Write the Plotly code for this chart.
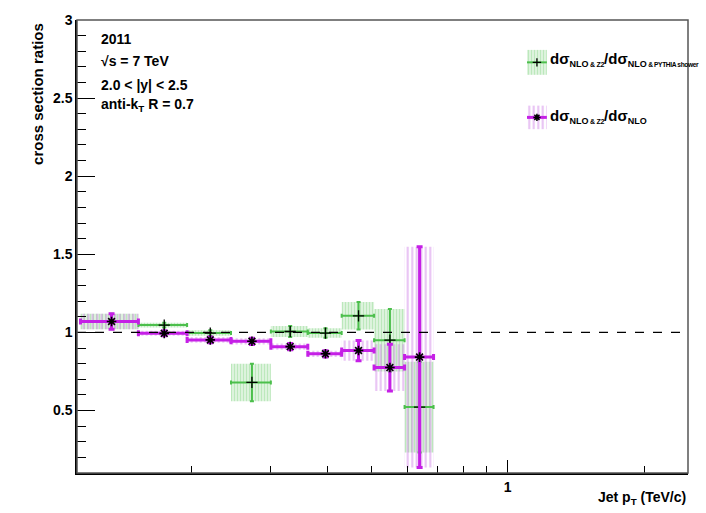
import plotly.graph_objects as go

# ---- data (jet pT bins in TeV) ----
bin_low = [0.114, 0.153, 0.196, 0.245, 0.300, 0.362, 0.430, 0.507, 0.592]
bin_high = [0.153, 0.196, 0.245, 0.300, 0.362, 0.430, 0.507, 0.592, 0.686]
ratio_pythia = [1.070, 1.047, 0.996, 0.680, 1.006, 0.996, 1.106, 0.950, 0.522]
err_pythia = [0.050, 0.015, 0.018, 0.120, 0.035, 0.030, 0.088, 0.200, 0.290]
ratio_nlo = [1.070, 0.994, 0.952, 0.943, 0.909, 0.863, 0.884, 0.775, 0.842]
err_nlo = [0.050, 0.016, 0.018, 0.020, 0.020, 0.020, 0.065, 0.150, 0.707]

y_tick_vals = [0.5, 1, 1.5, 2, 2.5, 3]
y_tick_text = ["0.5", "1", "1.5", "2", "2.5", "3"]
x_tick_vals = [1]
x_tick_text = ["1"]
x_minor_vals = [0.2, 0.3, 0.4, 0.5, 0.6, 0.7, 0.8, 0.9, 2]

info_lines = ["2011", "√s = 7 TeV", "2.0 < |y| < 2.5", "anti-k<sub>T</sub> R = 0.7"]
S_NLO = "<span style='font-size:9px'>NLO</span>"
S_Z2 = "<span style='font-size:7px;letter-spacing:-0.3px'> &amp; Z2</span>"
S_PY = "<span style='font-size:6.6px;letter-spacing:-0.35px'> &amp; PYTHIA shower</span>"
label_pythia = "dσ<sub>" + S_NLO + S_Z2 + "</sub>/dσ<sub>" + S_NLO + S_PY + "</sub>"
label_nlo = "dσ<sub>" + S_NLO + S_Z2 + "</sub>/dσ<sub>" + S_NLO + "</sub>"

GREEN = "#4cbf4c"
PURPLE = "#c51fe6"
GREEN_HATCH = "rgba(120,210,120,0.75)"
GREEN_BG = "rgba(200,235,200,0.45)"
PURPLE_HATCH = "#cf80e8"
FONT = "Liberation Sans, Arial, Helvetica, sans-serif"

centers = [(l + h) / 2 for l, h in zip(bin_low, bin_high)]


def band_polys(lo, hi, val, err):
    xs, ys = [], []
    for l, h, v, e in zip(lo, hi, val, err):
        xs += [l, h, h, l, l, None]
        ys += [v - e, v - e, v + e, v + e, v - e, None]
    return xs, ys


fig = go.Figure()

gx, gy = band_polys(bin_low, bin_high, ratio_pythia, err_pythia)
fig.add_trace(go.Scatter(
    x=gx, y=gy, mode="lines", line=dict(width=0), fill="toself",
    fillcolor="rgba(0,0,0,0)",
    fillpattern=dict(shape="|", fgcolor=GREEN_HATCH, bgcolor=GREEN_BG, size=3, solidity=0.5),
    hoverinfo="skip", showlegend=False))

px_, py_ = band_polys(bin_low, bin_high, ratio_nlo, err_nlo)
fig.add_trace(go.Scatter(
    x=px_, y=py_, mode="lines", line=dict(width=0), fill="toself",
    fillcolor="rgba(0,0,0,0)",
    fillpattern=dict(shape="|", fgcolor=PURPLE_HATCH, bgcolor="rgba(0,0,0,0)", size=4.5, solidity=0.45),
    hoverinfo="skip", showlegend=False))

fig.add_trace(go.Scatter(
    x=centers, y=ratio_pythia, mode="markers",
    marker=dict(symbol="cross-thin-open", size=8, color="black", line=dict(width=1.3, color="black")),
    error_x=dict(type="data", symmetric=False,
                 array=[h - c for h, c in zip(bin_high, centers)],
                 arrayminus=[c - l for l, c in zip(bin_low, centers)],
                 color=GREEN, thickness=2, width=2),
    error_y=dict(type="data", array=err_pythia, color=GREEN, thickness=2, width=2),
    showlegend=False))

fig.add_trace(go.Scatter(
    x=centers, y=ratio_nlo, mode="markers",
    marker=dict(symbol="asterisk-open", size=8, color="black", line=dict(width=1.6, color="black")),
    error_x=dict(type="data", symmetric=False,
                 array=[h - c for h, c in zip(bin_high, centers)],
                 arrayminus=[c - l for l, c in zip(bin_low, centers)],
                 color=PURPLE, thickness=3, width=3),
    error_y=dict(type="data", array=err_nlo, color=PURPLE, thickness=3, width=3),
    showlegend=False))

# ---- legend symbols on an overlay paper-like axis ----
leg_x0, leg_x1 = 0.7365, 0.769
leg_rows = [(0.879, 0.934, GREEN_HATCH, GREEN_BG, 3, 0.5, GREEN, "cross-thin-open", 1.3, 2),
            (0.759, 0.811, PURPLE_HATCH, "rgba(0,0,0,0)", 4.5, 0.45, PURPLE, "asterisk-open", 1.5, 3)]
for (y0, y1, hatch, bg, sz, sol, col, sym, lw, lwid) in leg_rows:
    fig.add_trace(go.Scatter(
        x=[leg_x0, leg_x1, leg_x1, leg_x0, leg_x0], y=[y0, y0, y1, y1, y0],
        xaxis="x2", yaxis="y2", mode="lines", line=dict(width=0), fill="toself",
        fillcolor="rgba(0,0,0,0)",
        fillpattern=dict(shape="|", fgcolor=hatch, bgcolor=bg, size=sz, solidity=sol),
        hoverinfo="skip", showlegend=False))
    ym = (y0 + y1) / 2
    fig.add_trace(go.Scatter(
        x=[leg_x0, leg_x1], y=[ym, ym], xaxis="x2", yaxis="y2", mode="lines",
        line=dict(color=col, width=lwid), hoverinfo="skip", showlegend=False))
    fig.add_trace(go.Scatter(
        x=[(leg_x0 + leg_x1) / 2], y=[ym], xaxis="x2", yaxis="y2", mode="markers",
        marker=dict(symbol=sym, size=6, color="black", line=dict(width=lw, color="black")),
        hoverinfo="skip", showlegend=False))

fig.add_annotation(x=0.772, y=0.912, xref="paper", yref="paper", xanchor="left", yanchor="middle",
                   text=label_pythia, showarrow=False, borderpad=0,
                   font=dict(family=FONT, size=15, color="black", weight="bold"))
fig.add_annotation(x=0.772, y=0.788, xref="paper", yref="paper", xanchor="left", yanchor="middle",
                   text=label_nlo, showarrow=False, borderpad=0,
                   font=dict(family=FONT, size=15, color="black", weight="bold"))

# ---- info text ----
info_y = [0.958, 0.910, 0.857, 0.812]
for t, yy in zip(info_lines, info_y):
    fig.add_annotation(x=0.036, y=yy, xref="paper", yref="paper", xanchor="left", yanchor="middle",
                       text=t, showarrow=False,
                       font=dict(family=FONT, size=14, color="black", weight="bold"))

# axis titles
fig.add_annotation(x=-0.0638, y=0.998, xref="paper", yref="paper", xanchor="center", yanchor="top",
                   text="cross section ratios", textangle=-90, showarrow=False,
                   font=dict(family=FONT, size=15, color="black", weight="bold"))
fig.add_annotation(x=1.0, y=-0.055, xref="paper", yref="paper", xanchor="right", yanchor="middle",
                   text="Jet p<sub>T</sub> (TeV/c)", showarrow=False,
                   font=dict(family=FONT, size=14, color="black", weight="bold"))

# dashed line at 1
fig.add_shape(type="line", xref="paper", yref="y", x0=0, x1=1, y0=1, y1=1,
              line=dict(color="black", width=1.2, dash="dash"), layer="above")
# frame
fig.add_shape(type="rect", xref="paper", yref="paper", x0=0, x1=1, y0=0, y1=1,
              line=dict(color="#555555", width=1.5), layer="above")

fig.update_layout(
    width=706, height=513,
    margin=dict(l=77, r=18, t=17, b=40),
    paper_bgcolor="white", plot_bgcolor="white",
    font=dict(family=FONT, size=14, color="black"),
    xaxis=dict(type="log", range=[-0.9508, 0.398], showgrid=False, zeroline=False,
               showline=True, linecolor="black", linewidth=1.5,
               ticks="inside", ticklen=13, tickwidth=1.2, tickcolor="black",
               tickmode="array", tickvals=x_tick_vals, ticktext=x_tick_text,
               tickfont=dict(family=FONT, size=14, weight="bold"),
               minor=dict(tickmode="array", tickvals=x_minor_vals, ticks="inside",
                          ticklen=7, tickwidth=1.2, tickcolor="black", showgrid=False)),
    yaxis=dict(range=[0.1, 3], showgrid=False, zeroline=False,
               showline=True, linecolor="black", linewidth=1.5,
               ticks="inside", ticklen=18, tickwidth=1.2, tickcolor="black",
               tickmode="array", tickvals=y_tick_vals, ticktext=y_tick_text,
               tickfont=dict(family=FONT, size=14, weight="bold"),
               minor=dict(dtick=0.1, tick0=0, ticks="inside", ticklen=9,
                          tickwidth=1.2, tickcolor="black", showgrid=False)),
    xaxis2=dict(range=[0, 1], overlaying="x", visible=False),
    yaxis2=dict(range=[0, 1], overlaying="y", visible=False),
)

fig.write_html("out.html")
